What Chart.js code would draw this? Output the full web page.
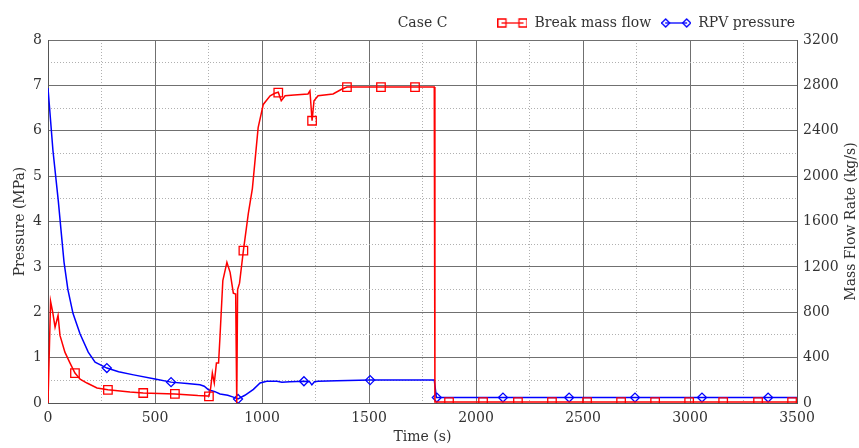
<!DOCTYPE html>
<html>
<head>
    <title>Case C</title>
    <script src="https://cdn.jsdelivr.net/npm/chart.js"></script>
    <style>
        body { margin: 0; background: #fff; }
    </style>
</head>
<body>
    <canvas id="caseChart" width="859" height="448"></canvas>

    <script>
        // values
        var chartTitle = 'Case C';
        var rightTitle = 'Mass Flow Rate (kg/s)';
        var xTicks = [0, 500, 1000, 1500, 2000, 2500, 3000, 3500];

        // Break mass flow (kg/s, right axis)
        var flowTime = [0, 12, 22, 33, 47, 56, 79, 103, 126, 150, 182, 229, 280, 383, 445, 593, 700, 745, 752,
            760, 768, 777, 787, 797, 803, 817, 836, 851, 866, 877, 882, 886, 895, 913, 936, 955, 982, 1006,
            1038, 1060, 1076, 1090, 1108, 1150, 1215, 1224, 1234, 1243, 1262, 1332, 1374, 1397, 1805, 1808, 3500];
        var flowRate = [0, 896, 800, 668, 772, 596, 448, 352, 264, 210, 176, 132, 116, 96, 88, 80, 66, 62, 60,
            130, 264, 176, 352, 352, 560, 1080, 1240, 1152, 968, 960, 0, 1000, 1056, 1344, 1670, 1890, 2428, 2632,
            2708, 2730, 2740, 2664, 2708, 2715, 2724, 2752, 2488, 2664, 2708, 2724, 2768, 2785, 2785, 8, 8];
        var flowMarkTime = [126, 280, 445, 593, 752, 913, 1076, 1234, 1397, 1556, 1715, 1874, 2033, 2196, 2355,
            2519, 2678, 2837, 2996, 3155, 3318, 3477];
        var flowMarkRate = [264, 116, 88, 80, 58, 1344, 2736, 2488, 2785, 2785, 2785, 8, 8, 8, 8,
            8, 8, 8, 8, 8, 8, 8];

        // RPV pressure (MPa, left axis)
        var presTime = [0, 23, 48, 61, 75, 93, 117, 150, 188, 220, 275, 330, 400, 500, 575, 650, 710, 730, 750,
            780, 804, 840, 866, 888, 920, 960, 991, 1022, 1070, 1093, 1130, 1196, 1222, 1233, 1245, 1262, 1350,
            1505, 1805, 1815, 3500];
        var presValue = [6.94, 5.57, 4.46, 3.8, 3.1, 2.5, 1.97, 1.52, 1.12, 0.9, 0.77, 0.69, 0.62, 0.53, 0.46, 0.43,
            0.40, 0.37, 0.29, 0.25, 0.20, 0.17, 0.13, 0.09, 0.17, 0.30, 0.44, 0.48, 0.48, 0.46, 0.47, 0.48, 0.47,
            0.40, 0.47, 0.48, 0.49, 0.505, 0.505, 0.12, 0.12];
        var presMarkTime = [275, 575, 888, 1196, 1505, 1817, 2126, 2435, 2743, 3056, 3365];
        var presMarkValue = [0.77, 0.46, 0.09, 0.48, 0.505, 0.12, 0.12, 0.12, 0.12, 0.12, 0.12];

        var FONT = {family: '"DejaVu Serif", serif', size: 14};
        var TEXT = '#333';
        var GRID = '#707070';
        var MINOR = '#b0b0b0';

        function pairs(xs, ys) {
            return xs.map(function (x, i) { return {x: x, y: ys[i]}; });
        }

        // small line+marker sample for the legend
        function legendIcon(color, shape) {
            var c = document.createElement('canvas');
            c.width = 30; c.height = 12;
            var g = c.getContext('2d');
            g.strokeStyle = color;
            g.lineWidth = 1.3;
            g.beginPath(); g.moveTo(4, 6); g.lineTo(26, 6); g.stroke();
            [4.5, 25.5].forEach(function (x) {
                g.beginPath();
                if (shape === 'rect') {
                    g.rect(x - 4, 2, 8, 8);
                } else {
                    g.moveTo(x - 4, 6); g.lineTo(x, 2); g.lineTo(x + 4, 6); g.lineTo(x, 10); g.closePath();
                }
                g.stroke();
            });
            return c;
        }

        // "Case C" sits on the legend row; right axis title reads bottom to top
        var extraText = {
            id: 'extraText',
            afterLayout: function (chart) {
                chart.legend.left += 8;
                chart.legend.right += 8;
            },
            afterDraw: function (chart) {
                var ctx = chart.ctx, area = chart.chartArea;
                var box = chart.legend.legendHitBoxes[0];
                ctx.save();
                ctx.font = FONT.size + 'px ' + FONT.family;
                ctx.fillStyle = TEXT;
                ctx.textAlign = 'center';
                ctx.textBaseline = 'middle';
                ctx.fillText(chartTitle, (area.left + area.right) / 2, box.top + box.height / 2);
                ctx.translate(chart.scales.y1.right - 8, (area.top + area.bottom) / 2);
                ctx.rotate(-Math.PI / 2);
                ctx.fillText(rightTitle, 0, 0);
                ctx.restore();
            }
        };

        var ctx = document.getElementById('caseChart').getContext('2d');
        var chart = new Chart(ctx, {
            type: 'line',
            data: {
                datasets: [{
                    label: 'Break mass flow',
                    data: pairs(flowTime, flowRate),
                    borderColor: 'rgb(255,0,0)',
                    borderWidth: 1.5,
                    pointRadius: 0,
                    yAxisID: 'y1',
                    order: 0,
                    icon: legendIcon('rgb(255,0,0)', 'rect')
                }, {
                    data: pairs(flowMarkTime, flowMarkRate),
                    showLine: false,
                    pointStyle: 'rect',
                    pointRadius: 6,
                    pointBorderWidth: 1.3,
                    borderColor: 'rgb(255,0,0)',
                    backgroundColor: 'rgba(0,0,0,0)',
                    yAxisID: 'y1',
                    order: 0
                }, {
                    label: 'RPV pressure',
                    data: pairs(presTime, presValue),
                    borderColor: 'rgb(0,0,255)',
                    borderWidth: 1.5,
                    pointRadius: 0,
                    yAxisID: 'y',
                    order: 1,
                    icon: legendIcon('rgb(0,0,255)', 'diamond')
                }, {
                    data: pairs(presMarkTime, presMarkValue),
                    showLine: false,
                    pointStyle: 'rectRot',
                    pointRadius: 4.5,
                    pointBorderWidth: 1.3,
                    borderColor: 'rgb(0,0,255)',
                    backgroundColor: 'rgba(0,0,0,0)',
                    yAxisID: 'y',
                    order: 1
                }]
            },
            options: {
                responsive: false,
                animation: false,
                layout: {padding: {top: 6, left: 8, right: 0, bottom: 0}},
                plugins: {
                    tooltip: {enabled: false},
                    legend: {
                        position: 'top',
                        align: 'end',
                        fullSize: false,
                        labels: {
                            usePointStyle: true,
                            pointStyleWidth: 30,
                            font: FONT,
                            color: TEXT,
                            padding: 10,
                            generateLabels: function (chart) {
                                var out = [];
                                chart.data.datasets.forEach(function (d, i) {
                                    if (!d.label) return;
                                    out.push({text: d.label, pointStyle: d.icon, fontColor: TEXT,
                                        fillStyle: 'rgba(0,0,0,0)', strokeStyle: 'rgba(0,0,0,0)',
                                        lineWidth: 0, hidden: false, datasetIndex: i});
                                });
                                return out;
                            }
                        }
                    }
                },
                scales: {
                    x: {
                        type: 'linear', min: 0, max: 3500,
                        afterBuildTicks: function (s) { s.ticks = xTicks.map(function (v) { return {value: v}; }); },
                        ticks: {font: FONT, color: TEXT, padding: 7, maxRotation: 0,
                            callback: function (v) { return String(v); }},
                        grid: {color: GRID, drawTicks: false},
                        border: {color: '#555'},
                        title: {display: true, text: 'Time (s)', font: FONT, color: TEXT, padding: {top: 2, bottom: 2}},
                        afterFit: function (s) { s.height = 45; }
                    },
                    xm: {
                        type: 'linear', position: 'bottom', min: 0, max: 3500,
                        ticks: {display: false, stepSize: 250},
                        grid: {drawTicks: false,
                            color: function (c) { return c.tick.value % 500 === 0 ? 'rgba(0,0,0,0)' : MINOR; }},
                        border: {display: false, dash: [1, 2]},
                        afterFit: function (s) { s.height = 0; }
                    },
                    y: {
                        type: 'linear', position: 'left', min: 0, max: 8,
                        ticks: {stepSize: 1, font: FONT, color: TEXT, padding: 6},
                        grid: {color: GRID, drawTicks: false},
                        border: {color: '#555'},
                        title: {display: true, text: 'Pressure (MPa)', font: FONT, color: TEXT},
                        afterFit: function (s) { s.width = 40; }
                    },
                    ym: {
                        type: 'linear', position: 'left', min: 0, max: 8,
                        ticks: {display: false, stepSize: 0.5},
                        grid: {drawTicks: false,
                            color: function (c) { return c.tick.value % 1 === 0 ? 'rgba(0,0,0,0)' : MINOR; }},
                        border: {display: false, dash: [1, 2]},
                        afterFit: function (s) { s.width = 0; }
                    },
                    y1: {
                        type: 'linear', position: 'right', min: 0, max: 3200,
                        ticks: {stepSize: 400, font: FONT, color: TEXT, padding: 6,
                            callback: function (v) { return String(v); }},
                        grid: {drawOnChartArea: false, drawTicks: false},
                        border: {color: '#555'},
                        afterFit: function (s) { s.width = 62; }
                    }
                }
            },
            plugins: [extraText]
        });
    </script>
</body>
</html>
